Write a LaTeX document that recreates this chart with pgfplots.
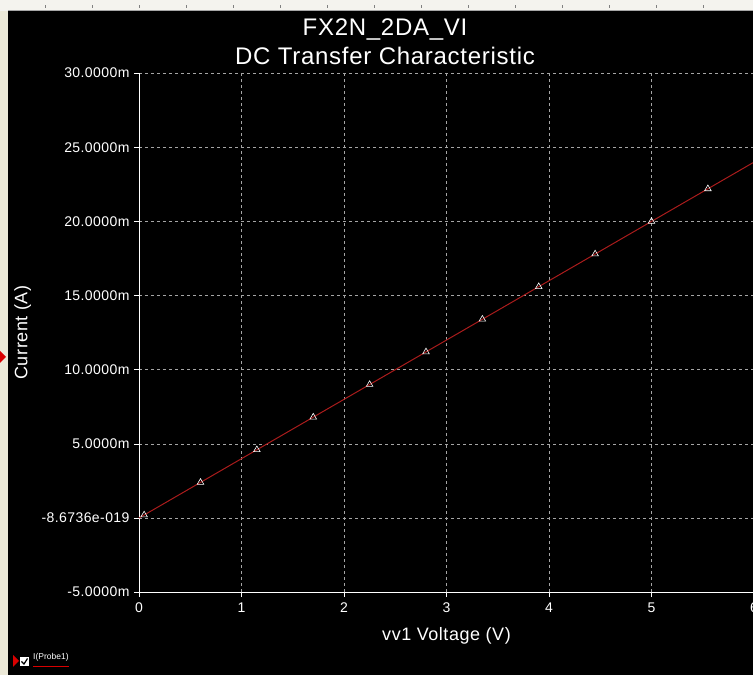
\documentclass[border=0pt]{standalone}
\usepackage{pgfplots}
\pgfplotsset{compat=1.18}
\usepackage{fontspec}
\setmainfont{Liberation Sans}
\newfontfamily\wfont[LetterSpace=3]{Liberation Sans}
\definecolor{stripbg}{RGB}{236,233,216}
\definecolor{topbg}{RGB}{244,243,238}
\definecolor{curvered}{RGB}{170,28,28}
\definecolor{gridgray}{RGB}{165,165,165}
\begin{document}
\begin{tikzpicture}[x=1pt,y=1pt]
\fill[black] (0,0) rectangle (753,675);
\clip (0,0) rectangle (753,675);
\fill[stripbg] (0,0) rectangle (8,675);
\fill[topbg] (0,664) rectangle (753,675);
\draw[gray!70,line width=0.6pt] (8,664.5) -- (753,664.5);
\foreach \t in {45,92,139,186,233,280,327,374,421,468,515,562,609,656,703} {
  \draw[gray,line width=0.6pt] (\t,667) -- (\t,670);
}
\fill[red!85!black] (0,312) -- (6,318) -- (0,324) -- cycle;
\begin{scope}[overlay]
\begin{axis}[
  at={(139pt,157pt)}, anchor=origin,
  scale only axis, width=615pt, height=519pt,
  xmin=0, xmax=6, ymin=-5, ymax=30,
  xtick={0,1,2,3,4,5,6},
  ytick={-5,0,5,10,15,20,25,30},
  yticklabels={-5.0000m,-8.6736e-019,5.0000m,10.0000m,15.0000m,20.0000m,25.0000m,30.0000m},
  /pgf/number format/assume math mode=true,
  axis x line*=bottom, axis y line*=left,
  axis line style={white, line width=0.8pt, -},
  tick align=outside, major tick length=5pt,
  tick style={white, line width=0.6pt},
  grid=major,
  major grid style={gridgray, dashed, line width=0.6pt},
  ticklabel style={font=\wfont\fontsize{14}{16}\selectfont, text=white},
  xticklabel style={yshift=-2pt},
  yticklabel style={xshift=-1pt},
  title={FX2N\_2DA\_VI\\DC Transfer Characteristic},
  title style={at={(axis description cs:0.4,1)}, anchor=south, align=center,
    font=\wfont\fontsize{24}{29}\selectfont, text=white, inner sep=1pt, yshift=1pt},
  xlabel={vv1 Voltage (V)},
  ylabel={Current (A)},
  xlabel style={at={(axis description cs:0.5,-0.085)}, anchor=center,
    font=\wfont\fontsize{18}{20}\selectfont, text=white},
  ylabel style={at={(axis description cs:-0.189,0.5)}, anchor=center, rotate=0,
    font=\wfont\fontsize{18}{20}\selectfont, text=white},
  clip=false,
]
\addplot[curvered, line width=1pt] coordinates {(0,0) (6,24)};
\addplot[only marks, mark=triangle, mark size=3.8pt,
  mark options={draw=white, line width=0.6pt}] coordinates {
  (0.05,0.2) (0.60,2.4) (1.15,4.6) (1.70,6.8) (2.25,9.0) (2.80,11.2)
  (3.35,13.4) (3.90,15.6) (4.45,17.8) (5.00,20.0) (5.55,22.2)
};
\end{axis}
\end{scope}
% legend area
\fill[red!85!black] (13,8) -- (19,14) -- (13,20) -- cycle;
\fill[white] (20,9) rectangle (29,18);
\draw[black, line width=1.2pt] (21.5,13.5) -- (24,11) -- (27.5,16.5);
\node[anchor=south west, inner sep=0pt, text=white, font=\fontsize{8.5}{9}\selectfont] at (33,14) {I(Probe1)};
\draw[red!85!black, line width=0.9pt] (33,8.5) -- (69,8.5);
\end{tikzpicture}
\end{document}
